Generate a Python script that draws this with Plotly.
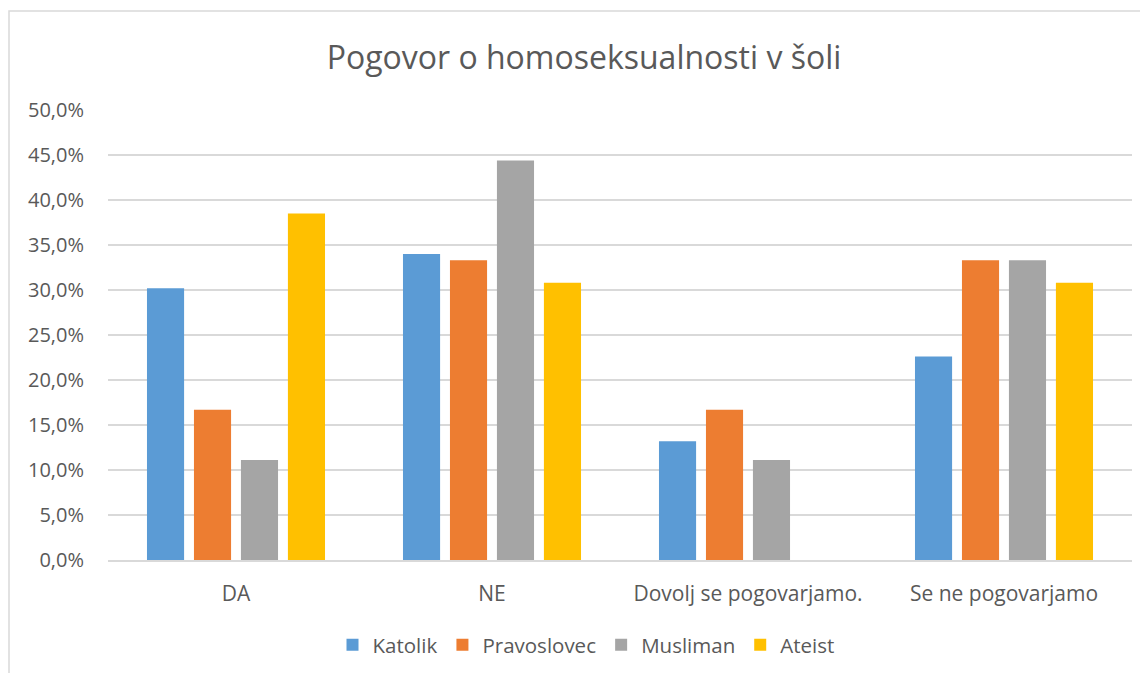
import plotly.graph_objects as go

categories = ["DA", "NE", "Dovolj se pogovarjamo.", "Se ne pogovarjamo"]
katolik = [30.2, 34.0, 13.2, 22.6]
pravoslovec = [16.7, 33.3, 16.7, 33.3]
musliman = [11.1, 44.4, 11.1, 33.3]
ateist = [38.5, 30.8, 0.0, 30.8]
series = [("Katolik", katolik, "#5B9BD5"), ("Pravoslovec", pravoslovec, "#ED7D31"),
          ("Musliman", musliman, "#A5A5A5"), ("Ateist", ateist, "#FFC000")]
tickvals = [0, 5, 10, 15, 20, 25, 30, 35, 40, 45, 50]
ticktext = [f"{v:.1f}%".replace(".", ",") for v in tickvals]

fig = go.Figure()
for name, vals, col in series:
    fig.add_trace(go.Bar(x=categories, y=vals, name=name, marker_color=col,
                         marker_line_width=0))

OFF = 8  # page offset
W, H = 1148 - OFF, 673 - OFF
L, R, T, B = 108 - OFF, 1148 - 1132, 110 - OFF, 673 - 560
pw, ph = W - L - R, H - T - B
y0px = 560 - OFF
fig.update_layout(
    width=W, height=H,
    margin=dict(l=L, r=R, t=T, b=B, autoexpand=False),
    paper_bgcolor="white", plot_bgcolor="white",
    font=dict(family="Open Sans, Noto Sans, sans-serif", color="#595959"),
    title=dict(text="Pogovor o homoseksualnosti v šoli", x=(584 - OFF) / W, xanchor="center",
               y=1 - (58 - OFF) / H, yanchor="middle", font=dict(size=32, color="#595959")),
    barmode="group", bargap=0.266, bargroupgap=0.21,
    showlegend=True,
    legend=dict(orientation="h", xref="container", yref="container",
                x=(586 - OFF) / W, xanchor="center",
                y=1 - (645 - OFF) / H, yanchor="middle",
                font=dict(size=20.5, color="#595959"),
                itemwidth=30, traceorder="normal"),
    xaxis=dict(showgrid=False, showline=True, linecolor="#D9D9D9", linewidth=1.5,
               ticks="", tickfont=dict(size=21, color="#595959"),
               ticklabelstandoff=14, automargin=False),
    yaxis=dict(range=[0, 50], tickvals=tickvals, ticktext=ticktext,
               showgrid=True, gridcolor="#D9D9D9", gridwidth=1.5, zeroline=False,
               ticks="", ticklen=0, tickfont=dict(size=20, color="#595959"),
               ticklabelstandoff=23, automargin=False),
)
fig.add_shape(type="rect", xref="paper", yref="paper",
              x0=(9 - OFF - L) / pw, x1=(W + 20 - L) / pw,
              y0=-(H + 20 - y0px) / ph, y1=(y0px - (11 - OFF)) / ph,
              line=dict(color="#D9D9D9", width=1.5), fillcolor="rgba(0,0,0,0)", layer="below")
fig.write_html("out.html")
